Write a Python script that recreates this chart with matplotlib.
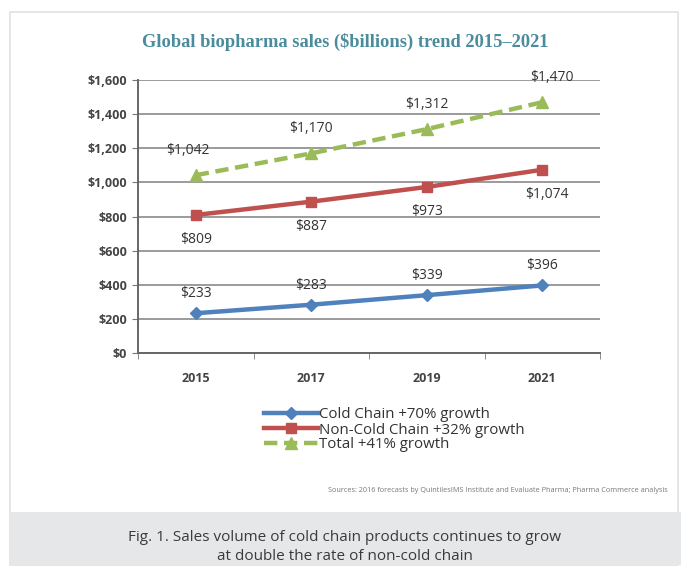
import matplotlib
matplotlib.use("Agg")
import matplotlib.pyplot as plt
from matplotlib.patches import Rectangle
from matplotlib.ticker import FuncFormatter

# ---- Data -------------------------------------------------------------------
years = ["2015", "2017", "2019", "2021"]
cold_chain = [233, 283, 339, 396]
non_cold_chain = [809, 887, 973, 1074]
total = [1042, 1170, 1312, 1470]

series_names = ["Cold Chain +70% growth",
                "Non-Cold Chain +32% growth",
                "Total +41% growth"]

TITLE = "Global biopharma sales ($billions) trend 2015\u20132021"
SOURCE = ("Sources: 2016 forecasts by QuintilesIMS Institute and Evaluate Pharma; "
          "Pharma Commerce analysis")
CAPTION = ("Fig. 1. Sales volume of cold chain products continues to grow\n"
           "at double the rate of non-cold chain")

BLUE, RED, GREEN = "#4f81bd", "#c0504d", "#9bbb59"
TXT = "#333333"

# ---- Figure -----------------------------------------------------------------
W, H = 681, 567
fig = plt.figure(figsize=(W / 100, H / 100), dpi=100, facecolor="white")

def fx(px):
    return px / W

def fy(py):
    return 1 - py / H

# frame + caption panel
fig.patches.append(Rectangle((fx(10), fy(565)), fx(668), fy(12) - fy(565),
                             transform=fig.transFigure, facecolor="white",
                             edgecolor="#e2e2e2", linewidth=1.2, zorder=-2))
fig.patches.append(Rectangle((fx(10), fy(565)), fx(671), fy(512) - fy(565),
                             transform=fig.transFigure, facecolor="#e6e7e9",
                             edgecolor="none", zorder=-1))

ax = fig.add_axes([fx(138), fy(353), fx(600) - fx(138), fy(80) - fy(353)])
ax.set_zorder(2)
ax.patch.set_alpha(0)
x = range(len(years))

ax.plot(x, cold_chain, color=BLUE, lw=3.2, marker="D", ms=6,
        label=series_names[0], zorder=3)
ax.plot(x, non_cold_chain, color=RED, lw=3.2, marker="s", ms=7,
        label=series_names[1], zorder=3)
ax.plot(x, total, color=GREEN, lw=3.2, ls=(0, (3, 1.5)), marker="^", ms=8,
        label=series_names[2], zorder=3)

lab_kw = dict(textcoords="offset points", ha="center", va="center",
              fontsize=10, color=TXT, family="Open Sans", zorder=4)
for i, v in enumerate(cold_chain):
    ax.annotate(f"${v:,}", (i, v), xytext=(0, 14), **lab_kw)
for i, v in enumerate(non_cold_chain):
    dx = 3 if i == 3 else 0
    ax.annotate(f"${v:,}", (i, v), xytext=(dx, -18), **lab_kw)
for i, v in enumerate(total):
    dx = -6 if i == 0 else (7 if i == 3 else 0)
    ax.annotate(f"${v:,}", (i, v), xytext=(dx, 18), **lab_kw)

ax.set_xlim(-0.5, 3.5)
ax.set_ylim(0, 1600)
ax.set_yticks(range(0, 1601, 200))
ax.yaxis.set_major_formatter(FuncFormatter(lambda v, p: f"${v:,.0f}"))
ax.set_xticks(list(x))
ax.set_xticklabels(years)
ax.set_xticks([-0.5, 0.5, 1.5, 2.5, 3.5], minor=True)
ax.tick_params(axis="x", which="major", length=0, pad=14)
ax.tick_params(axis="x", which="minor", length=4, color="#777777")
ax.tick_params(axis="y", length=4, color="#777777", pad=4)
for lbl in ax.get_xticklabels() + ax.get_yticklabels():
    lbl.set_family("Open Sans")
    lbl.set_fontsize(9)
    lbl.set_fontweight("bold")
    lbl.set_color("#444444")

ax.grid(axis="y", color="#8a8a8a", lw=1.2, zorder=1)
ax.set_axisbelow(True)
for s in ["top", "right"]:
    ax.spines[s].set_visible(False)
for s in ["left", "bottom"]:
    ax.spines[s].set_color("#666666")
    ax.spines[s].set_linewidth(1.4)

fig.text(fx(345), fy(42), TITLE, ha="center", va="center", fontsize=13.3,
         family="Liberation Serif", fontweight="bold", color="#4a8c9c")

leg = fig.legend(loc="upper left", bbox_to_anchor=(fx(250), fy(394)),
                 frameon=False, handlelength=3.6,
                 handletextpad=0.1, labelspacing=0.0,
                 prop={"family": "Open Sans", "size": 10.8})
for t in leg.get_texts():
    t.set_color(TXT)

fig.text(fx(668), fy(490), SOURCE, ha="right", va="center", fontsize=5.2,
         family="Open Sans", color="#777777")
fig.text(fx(345), fy(547), CAPTION, ha="center", va="center", fontsize=11,
         family="Open Sans", color="#3a3a3a", linespacing=1.3)

fig.savefig("out.png", dpi=100, facecolor="white")
